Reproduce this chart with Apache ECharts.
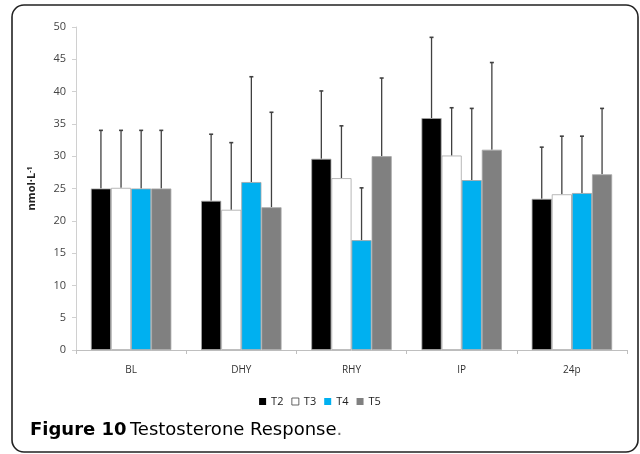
<!DOCTYPE html>
<html>
<head>
<meta charset="utf-8">
<title>Testosterone Response</title>
<script src="https://cdn.jsdelivr.net/npm/echarts@6/dist/echarts.min.js"></script>
<style>
  html, body { margin: 0; padding: 0; background: #fff; }
  #chart { width: 640px; height: 454px; }
</style>
</head>
<body>
<div id="chart"></div>
<script>
// time points on the x axis
var categories = ['BL', 'DHY', 'RHY', 'IP', '24p'];
var seriesNames = ['T2', 'T3', 'T4', 'T5'];

// means (nmol/L)
var t2 = [25.0, 23.1, 29.6, 35.9, 23.4];
var t3 = [25.1, 21.7, 26.6, 30.1, 24.1];
var t4 = [25.0, 26.0, 17.0, 26.3, 24.3];
var t5 = [25.0, 22.1, 30.0, 31.0, 27.2];

// top of the error bars (mean + SD)
var t2Top = [34.0, 33.4, 40.1, 48.4, 31.4];
var t3Top = [34.0, 32.1, 34.7, 37.5, 33.1];
var t4Top = [34.0, 42.3, 25.1, 37.4, 33.1];
var t5Top = [34.0, 36.8, 42.1, 44.5, 37.4];

var yTicks = [0, 5, 10, 15, 20, 25, 30, 35, 40, 45, 50];

var means = [t2, t3, t4, t5];
var tops = [t2Top, t3Top, t4Top, t5Top];
var colors = ['#000000', '#ffffff', '#00b0f0', '#808080'];

var chart = echarts.init(document.getElementById('chart'), null, { renderer: 'canvas' });

var barCategoryGap = '27%';

// draws the upward whisker for bar i of group idx
function errorRenderer(idx) {
    return function (params, api) {
        var cat = api.value(0);
        var top = api.value(1);
        var mean = api.value(2);
        var p0 = api.coord([cat, mean]);
        var p1 = api.coord([cat, top]);
        var band = api.size([1, 0])[0];
        var inner = band * (1 - 0.27);
        var w = inner / 4;
        var x = p0[0] - inner / 2 + w * (idx + 0.5);
        var style = { stroke: '#404040', lineWidth: 1.3 };
        return {
            type: 'group',
            children: [
                { type: 'line', shape: { x1: x, y1: p0[1], x2: x, y2: p1[1] }, style: style },
                { type: 'line', shape: { x1: x - 2, y1: p1[1], x2: x + 2, y2: p1[1] }, style: { stroke: '#404040', lineWidth: 1.6 } }
            ]
        };
    };
}

var series = [];
for (var i = 0; i < 4; i++) {
    series.push({
        name: seriesNames[i],
        type: 'bar',
        data: means[i],
        barGap: '0%',
        barCategoryGap: barCategoryGap,
        itemStyle: { color: colors[i], borderColor: '#a6a6a6', borderWidth: 0.8 },
        z: 2
    });
}
for (var j = 0; j < 4; j++) {
    var errData = [];
    for (var k = 0; k < categories.length; k++) {
        errData.push([k, tops[j][k], means[j][k]]);
    }
    series.push({
        type: 'custom',
        name: 'err' + j,
        renderItem: errorRenderer(j),
        data: errData,
        encode: { x: 0, y: 1 },
        z: 1,
        silent: true
    });
}

var option = {
    animation: false,
    backgroundColor: '#ffffff',
    grid: { left: 76, right: 13, top: 27, bottom: 104 },
    legend: {
        data: seriesNames.map(function (n, i) {
            return { name: n, itemStyle: { color: colors[i], borderColor: '#404040', borderWidth: i === 1 ? 0.8 : 0 } };
        }),
        bottom: 42,
        left: 'center',
        icon: 'rect',
        itemWidth: 7,
        itemHeight: 7,
        itemGap: 8,
        textStyle: { fontFamily: 'Open Sans', fontSize: 11, color: '#222' }
    },
    xAxis: {
        type: 'category',
        data: categories,
        axisLine: { lineStyle: { color: '#bfbfbf' } },
        axisTick: { show: true, length: 4, lineStyle: { color: '#bfbfbf' } },
        axisLabel: { margin: 15, fontFamily: 'Open Sans', fontSize: 10, color: '#333' }
    },
    yAxis: {
        type: 'value',
        min: yTicks[0],
        max: yTicks[yTicks.length - 1],
        interval: 5,
        splitLine: { show: false },
        axisLine: { show: true, lineStyle: { color: '#d0d0d0' } },
        axisTick: { show: true, length: 4, lineStyle: { color: '#d0d0d0' } },
        axisLabel: { margin: 10, fontFamily: 'Open Sans', fontSize: 11, color: '#444' },
        name: '{a|nmol·L}{b|-1}',
        nameLocation: 'middle',
        nameGap: 38,
        nameRotate: 90,
        nameTextStyle: {
            rich: {
                a: { fontFamily: 'Open Sans', fontSize: 11, fontWeight: 'bold', color: '#222' },
                b: { fontFamily: 'Open Sans', fontSize: 7, fontWeight: 'bold', color: '#222', verticalAlign: 'top', padding: [0, 0, 5, 0] }
            }
        }
    },
    graphic: [
        {
            type: 'rect',
            shape: { x: 12, y: 5, width: 626, height: 447, r: 12 },
            style: { fill: 'none', stroke: '#222', lineWidth: 1.6 },
            z: -1
        },
        {
            type: 'text',
            left: 30,
            top: 421,
            style: {
                text: '{b|Figure 10} {n|Testosterone Response}{p|.}',
                rich: {
                    b: { fontFamily: 'DejaVu Sans', fontSize: 18, fontWeight: 'bold', fill: '#000' },
                    n: { fontFamily: 'DejaVu Sans', fontSize: 18, fill: '#000' },
                    p: { fontFamily: 'DejaVu Sans', fontSize: 18, fill: '#666' }
                }
            }
        }
    ],
    series: series
};

chart.setOption(option);
</script>
</body>
</html>
